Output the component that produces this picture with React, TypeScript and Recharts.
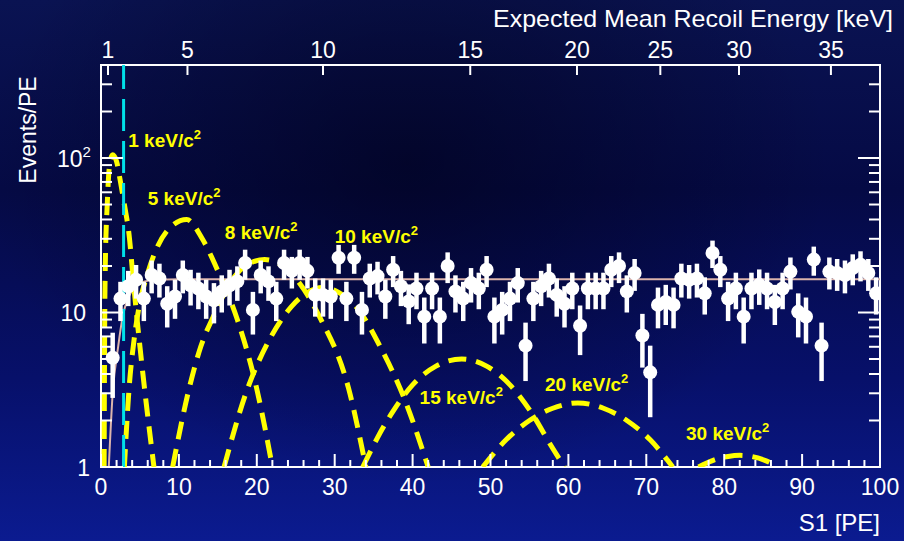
import React from 'react';
import { ComposedChart, Scatter, Line, XAxis, YAxis, ErrorBar, ReferenceLine, ReferenceDot, ReferenceArea } from 'recharts';

// measured S1 spectrum, one bin per PE
const S1_BINS = [
  1.5, 2.5, 3.5, 4.5, 5.5, 6.5, 7.5, 8.5, 9.5, 10.5, 11.5, 12.5, 13.5, 14.5, 15.5, 16.5, 17.5, 18.5, 19.5, 20.5,
  21.5, 22.5, 23.5, 24.5, 25.5, 26.5, 27.5, 28.5, 29.5, 30.5, 31.5, 32.5, 33.5, 34.5, 35.5, 36.5, 37.5, 38.5, 39.5, 40.5,
  41.5, 42.5, 43.5, 44.5, 45.5, 46.5, 47.5, 48.5, 49.5, 50.5, 51.5, 52.5, 53.5, 54.5, 55.5, 56.5, 57.5, 58.5, 59.5, 60.5,
  61.5, 62.5, 63.5, 64.5, 65.5, 66.5, 67.5, 68.5, 69.5, 70.5, 71.5, 72.5, 73.5, 74.5, 75.5, 76.5, 77.5, 78.5, 79.5, 80.5,
  81.5, 82.5, 83.5, 84.5, 85.5, 86.5, 87.5, 88.5, 89.5, 90.5, 91.5, 92.5, 93.5, 94.5, 95.5, 96.5, 97.5, 98.5, 99.5,
];
const EVENTS = [
  5.1, 12.3, 14.8, 16.3, 12.3, 17.5, 16.6, 11.4, 12.7, 17.5, 15, 14.3, 12.7, 12, 13.7, 15, 15.9, 20.9, 10.4, 17.5,
  15.9, 12.3, 20.9, 18.6, 20.9, 18.6, 13, 13, 12.7, 22.6, 12.3, 22.6, 10.4, 16.6, 17.2, 12.7, 18.9, 14.8, 11.8, 14.3,
  9.4, 14.3, 9.4, 20, 13.7, 12.3, 15.5, 14.3, 18.9, 9.4, 10.4, 12.3, 15.5, 6.1, 12.3, 14.8, 16.6, 13, 11.4, 14.3,
  8.2, 14.3, 14.3, 14.3, 18.9, 20, 13.7, 18, 7.1, 4.1, 11.2, 11.7, 11.2, 16.6, 16.3, 16.6, 13.3, 24.3, 18.9, 12.3,
  14.3, 9.4, 14.3, 15.1, 14.3, 11.7, 14.3, 18.4, 10.1, 9.4, 22, 6.1, 18.4, 18, 17.5, 19.4, 20.4, 18, 13.3,
];
const EVENT_ERRORS = [
  2.3, 3.5, 3.8, 4.0, 3.5, 4.2, 4.1, 3.4, 3.6, 4.2, 3.9, 3.8, 3.6, 3.5, 3.7, 3.9, 4.0, 4.6, 3.2, 4.2,
  4.0, 3.5, 4.6, 4.3, 4.6, 4.3, 3.6, 3.6, 3.6, 4.8, 3.5, 4.8, 3.2, 4.1, 4.1, 3.6, 4.3, 3.8, 3.4, 3.8,
  3.1, 3.8, 3.1, 4.5, 3.7, 3.5, 3.9, 3.8, 4.3, 3.1, 3.2, 3.5, 3.9, 2.5, 3.5, 3.8, 4.1, 3.6, 3.4, 3.8,
  2.9, 3.8, 3.8, 3.8, 4.3, 4.5, 3.7, 4.2, 2.7, 2.0, 3.3, 3.4, 3.3, 4.1, 4.0, 4.1, 3.6, 4.9, 4.3, 3.5,
  3.8, 3.1, 3.8, 3.9, 3.8, 3.4, 3.8, 4.3, 3.2, 3.1, 4.7, 2.5, 4.3, 4.2, 4.2, 4.4, 4.5, 4.2, 3.6,
];

// background model (solid line)
const BACKGROUND_FIT: [number, number][] = [
  [1.0, 1], [1.5, 3], [2.2, 6], [2.8, 9.5], [3.5, 12.5], [4.5, 14.8], [5.5, 15.8], [7, 16.3], [10, 16.4], [100, 16.4],
];

// expected WIMP signal shapes (dashed)
const WIMP_1KEV: [number, number][] = [
  [0.4, 1], [0.45, 5], [0.55, 20], [0.8, 50], [1.1, 90], [1.5, 105], [2.0, 95], [2.5, 70], [3.0, 50], [3.6, 32],
  [4.2, 15], [5.0, 6], [5.8, 2.6], [6.8, 1],
];
const WIMP_5KEV: [number, number][] = [
  [3.0, 1], [3.6, 3.2], [4.3, 7], [4.9, 11], [6, 18], [7, 25], [9, 36], [11, 40], [13, 30], [15, 18.6],
  [17.5, 9], [20, 3.2], [22, 1],
];
const WIMP_8KEV: [number, number][] = [
  [9.2, 1], [11.3, 3.2], [12.8, 6], [14.5, 9.6], [16.4, 15], [18.5, 20], [21, 22], [23, 20.5], [25, 16.6], [28, 9.5],
  [31.8, 3.2], [34, 1],
];
const WIMP_10KEV: [number, number][] = [
  [15.8, 1], [18.6, 3], [21.5, 6.5], [24.5, 11], [28.5, 14.5], [30.5, 13.5], [33, 10.5], [36, 5.8], [38.9, 2.8], [42, 1],
];
const WIMP_15KEV: [number, number][] = [
  [33.6, 1], [35.5, 1.55], [37.5, 2.3], [40, 3.4], [43, 4.5], [46.3, 5.0], [49.5, 4.5], [52.5, 3.4], [55.5, 2.15],
  [57.5, 1.45], [59.5, 1],
];
const WIMP_20KEV: [number, number][] = [
  [49, 1], [52, 1.5], [55, 2.0], [58, 2.4], [61.2, 2.6], [64.5, 2.4], [67.5, 2.0], [70.5, 1.5], [73.4, 1],
];
const WIMP_30KEV: [number, number][] = [
  [76.7, 1], [78.5, 1.1], [80.5, 1.17], [82, 1.19], [83.5, 1.17], [85.3, 1.1], [86.9, 1],
];

const THRESHOLD_S1 = 2.9;

const BOTTOM_TICKS = [
  0, 2, 4, 6, 8, 10, 12, 14, 16, 18, 20, 22, 24, 26, 28, 30, 32, 34, 36, 38, 40, 42, 44, 46, 48, 50,
  52, 54, 56, 58, 60, 62, 64, 66, 68, 70, 72, 74, 76, 78, 80, 82, 84, 86, 88, 90, 92, 94, 96, 98, 100,
];
const LEFT_TICKS = [1, 2, 3, 4, 5, 6, 7, 8, 9, 10, 20, 30, 40, 50, 60, 70, 80, 90, 100, 200, 300];
const KEV_LABELS = ['1', '5', '10', '15', '20', '25', '30', '35'];
const KEV_AT_S1 = [0.9, 11.1, 28.5, 47.4, 61.1, 71.8, 81.9, 93.7];

const CURVE_LABELS = [
  { text: '1 keV/c', x: 3.5, y: 118 },
  { text: '5 keV/c', x: 6.0, y: 50 },
  { text: '8 keV/c', x: 15.9, y: 30 },
  { text: '10 keV/c', x: 30.0, y: 28.3 },
  { text: '15 keV/c', x: 40.9, y: 2.56 },
  { text: '20 keV/c', x: 57.0, y: 3.11 },
  { text: '30 keV/c', x: 75.1, y: 1.5 },
];

const PLOT = { left: 101, top: 65, right: 880, bottom: 467 };
const FONT = "'Liberation Sans', Arial, sans-serif";

const toPoints = (pairs: [number, number][]) => pairs.map(([x, y]) => ({ x, y }));

const spectrum = S1_BINS.map((x, i) => ({ x, y: EVENTS[i], err: EVENT_ERRORS[i] }));

const signalCurves = [WIMP_1KEV, WIMP_5KEV, WIMP_8KEV, WIMP_10KEV, WIMP_15KEV, WIMP_20KEV, WIMP_30KEV];

// invisible series so the top (energy) axis gets drawn
const topAxisAnchor = [{ x: 0, y: 1 }, { x: 100, y: 1 }];

const BottomTick = (props: any) => {
  const { x, payload } = props;
  const v = payload.value;
  const major = v % 10 === 0;
  return (
    <g>
      <line x1={x} x2={x} y1={PLOT.bottom} y2={PLOT.bottom - (major ? 13 : 7)} stroke="#fff" strokeWidth={2} />
      {major && (
        <text x={x} y={PLOT.bottom + 28} textAnchor="middle" fill="#fff" fontSize={23} fontFamily={FONT}>
          {v}
        </text>
      )}
    </g>
  );
};

const TopTick = (props: any) => {
  const { x, payload } = props;
  const idx = KEV_AT_S1.indexOf(payload.value);
  return (
    <g>
      <line x1={x} x2={x} y1={PLOT.top} y2={PLOT.top + 10} stroke="#fff" strokeWidth={2} />
      <text x={x} y={PLOT.top - 7} textAnchor="middle" fill="#fff" fontSize={23} fontFamily={FONT}>
        {KEV_LABELS[idx]}
      </text>
    </g>
  );
};

const LeftTick = (props: any) => {
  const { y, payload } = props;
  const v = payload.value;
  const major = v === 1 || v === 10 || v === 100;
  const len = major ? 22 : 11;
  return (
    <g>
      <line x1={PLOT.left} x2={PLOT.left + len} y1={y} y2={y} stroke="#fff" strokeWidth={2} />
      <line x1={PLOT.right} x2={PLOT.right - len} y1={y} y2={y} stroke="#fff" strokeWidth={2} />
      {v === 1 && (
        <text x={90} y={y + 9} textAnchor="end" fill="#fff" fontSize={23} fontFamily={FONT}>1</text>
      )}
      {v === 10 && (
        <text x={86} y={y + 8} textAnchor="end" fill="#fff" fontSize={23} fontFamily={FONT}>10</text>
      )}
      {v === 100 && (
        <text x={57} y={y + 9} fill="#fff" fontSize={23} fontFamily={FONT}>
          10<tspan fontSize={15} dy={-10}>2</tspan>
        </text>
      )}
    </g>
  );
};

const Dot = (props: any) => <circle cx={props.cx} cy={props.cy} r={7} fill="#fff" />;

const curveLabel = (text: string) => (props: any) => (
  <text x={props.cx} y={props.cy} fill="#ffff00" fontSize={19} fontWeight="bold" fontFamily={FONT}>
    {text}
    <tspan fontSize={13} dy={-8}>2</tspan>
  </text>
);

export default function App() {
  return (
    <div
      style={{
        position: 'absolute',
        left: 0,
        top: 0,
        width: 904,
        height: 541,
        background:
          'radial-gradient(ellipse at 45% 30%, rgba(0,0,20,0.55) 0%, rgba(0,0,20,0) 60%), linear-gradient(180deg, #0a1352 0%, #050a45 35%, #07106a 70%, #0b1b90 100%)',
      }}
    >
      <svg width={904} height={541} style={{ position: 'absolute', left: 0, top: 0 }}>
        <text x={893} y={27} textAnchor="end" fill="#fff" fontSize={24} fontFamily={FONT} textLength={400} lengthAdjust="spacingAndGlyphs">
          Expected Mean Recoil Energy [keV]
        </text>
        <text x={880} y={531} textAnchor="end" fill="#fff" fontSize={24} fontFamily={FONT}>
          S1 [PE]
        </text>
        <text
          x={36}
          y={130}
          transform="rotate(-90 36 130)"
          textAnchor="middle"
          fill="#fff"
          fontSize={23}
          fontFamily={FONT}
        >
          Events/PE
        </text>
      </svg>
      <div style={{ position: 'absolute', left: 0, top: 0 }}>
        <ComposedChart width={904} height={541} margin={{ top: 35, right: 24, bottom: 44, left: 41 }}>
          <XAxis
            xAxisId="bottom"
            dataKey="x"
            type="number"
            domain={[0, 100]}
            ticks={BOTTOM_TICKS}
            interval={0}
            allowDataOverflow
            height={30}
            axisLine={false}
            tickLine={false}
            tick={<BottomTick />}
          />
          <XAxis
            xAxisId="top"
            orientation="top"
            dataKey="x"
            type="number"
            domain={[0, 100]}
            ticks={KEV_AT_S1}
            interval={0}
            allowDataOverflow
            height={30}
            axisLine={false}
            tickLine={false}
            tick={<TopTick />}
          />
          <YAxis
            yAxisId="left"
            type="number"
            scale="log"
            domain={[1, 400]}
            ticks={LEFT_TICKS}
            interval={0}
            allowDataOverflow
            width={60}
            axisLine={false}
            tickLine={false}
            tick={<LeftTick />}
          />
          <ReferenceArea
            xAxisId="bottom"
            yAxisId="left"
            x1={0}
            x2={100}
            y1={1}
            y2={400}
            fill="none"
            fillOpacity={0}
            stroke="#fff"
            strokeWidth={2}
            ifOverflow="visible"
          />
          <Line
            xAxisId="top"
            yAxisId="left"
            data={topAxisAnchor}
            dataKey="y"
            stroke="none"
            strokeWidth={0}
            dot={false}
            activeDot={false}
            isAnimationActive={false}
          />
          <Line
            xAxisId="bottom"
            yAxisId="left"
            data={toPoints(BACKGROUND_FIT)}
            dataKey="y"
            type="monotone"
            stroke="#dcb4ac"
            strokeWidth={2}
            dot={false}
            isAnimationActive={false}
          />
          {signalCurves.map((c, i) => (
            <Line
              key={i}
              xAxisId="bottom"
              yAxisId="left"
              data={toPoints(c)}
              dataKey="y"
              type="monotone"
              stroke="#ffff00"
              strokeWidth={5}
              strokeDasharray="18 10"
              dot={false}
              isAnimationActive={false}
            />
          ))}
          <ReferenceLine
            xAxisId="bottom"
            yAxisId="left"
            x={THRESHOLD_S1}
            stroke="#00e0e8"
            strokeWidth={3}
            strokeDasharray="32 10"
          />
          <Scatter
            xAxisId="bottom"
            yAxisId="left"
            data={spectrum}
            dataKey="y"
            shape={<Dot />}
            isAnimationActive={false}
          >
            <ErrorBar dataKey="err" direction="y" width={0} stroke="#fff" strokeWidth={4.5} />
          </Scatter>
          {CURVE_LABELS.map((l) => (
            <ReferenceDot
              key={l.text}
              xAxisId="bottom"
              yAxisId="left"
              x={l.x}
              y={l.y}
              r={0}
              ifOverflow="visible"
              shape={curveLabel(l.text)}
            />
          ))}
        </ComposedChart>
      </div>
    </div>
  );
}
